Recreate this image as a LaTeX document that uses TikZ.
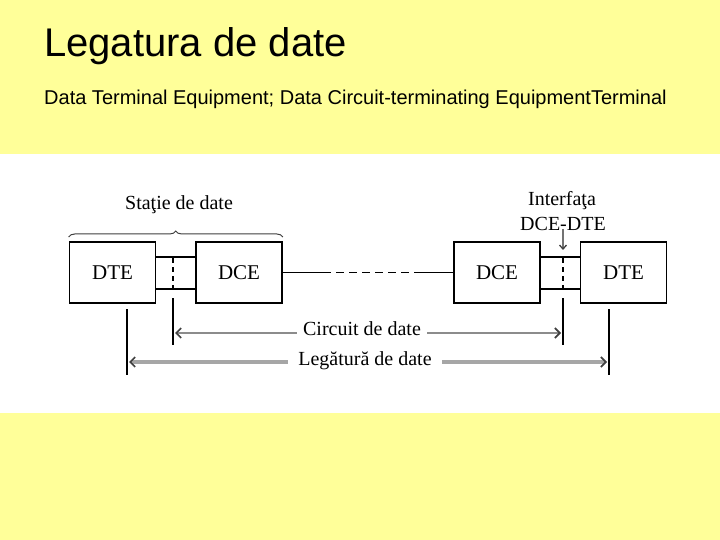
\documentclass[tikz,border=0pt]{standalone}
\usepackage{fontspec}
\setmainfont{Liberation Serif}
\newfontfamily\titlefont{Liberation Sans}
\usetikzlibrary{arrows.meta,decorations.pathreplacing,calc}
\definecolor{slideyellow}{RGB}{255,255,153}
\newcommand\lblfont{\fontsize{20bp}{22bp}\selectfont}
\newcommand\boxfont{\fontsize{21bp}{23bp}\selectfont}
\begin{document}
\begin{tikzpicture}[x=1bp,y=-1bp,
  box/.style={draw,line width=1.6bp,minimum width=86bp,minimum height=61bp,inner sep=0pt,font=\boxfont},
  wire/.style={line width=1.6bp},
  dashwire/.style={line width=1.6bp,dash pattern=on 5bp off 4bp},
  linkdash/.style={line width=1.6bp,dash pattern=on 8bp off 5bp},
  lbl/.style={font=\lblfont,inner sep=0pt},
  dimA/.style={draw=black!45,line width=2bp,
    {Straight Barb[length=5bp,width=10bp,line width=1.6bp,color=black!75]}-{Straight Barb[length=5bp,width=10bp,line width=1.6bp,color=black!75]}},
  dimB/.style={draw=black!35,line width=3.5bp,
    {Straight Barb[length=5bp,width=10bp,line width=1.6bp,color=black!75]}-{Straight Barb[length=5bp,width=10bp,line width=1.6bp,color=black!75]}},
  dimlbl/.style={font=\lblfont,fill=white,inner xsep=6bp,inner ysep=1bp,anchor=base}
]
\useasboundingbox (0,0) rectangle (720,540);
\fill[slideyellow] (0,0) rectangle (720,540);
\fill[white] (0,154) rectangle (720,413);

\node[anchor=base west,inner sep=0pt,font=\titlefont\fontsize{40bp}{46bp}\selectfont] (title) at (44,57) {Legatura de date};
\node[anchor=base west,inner sep=0pt,font=\titlefont\fontsize{20bp}{24bp}\selectfont] (sub) at (44,105) {Data Terminal Equipment; Data Circuit-terminating EquipmentTerminal};

% boxes
\node[box] (dte1) at (112.5,272.5) {DTE};
\node[box] (dce1) at (239,272.5) {DCE};
\node[box] (dce2) at (497,272.5) {DCE};
\node[box] (dte2) at (623.5,272.5) {DTE};

% interface connectors
\draw[wire] ([yshift=-16bp]dte1.north east) -- ([yshift=-16bp]dce1.north west);
\draw[wire] ([yshift=15bp]dte1.south east) -- ([yshift=15bp]dce1.south west);
\draw[wire] ([yshift=-16bp]dce2.north east) -- ([yshift=-16bp]dte2.north west);
\draw[wire] ([yshift=15bp]dce2.south east) -- ([yshift=15bp]dte2.south west);

\coordinate (ia1) at (173,258); \coordinate (ib1) at (173,288);
\coordinate (ic1) at (173,298); \coordinate (id1) at (173,345);
\coordinate (ia2) at (563,258); \coordinate (ib2) at (563,288);
\coordinate (ic2) at (563,298); \coordinate (id2) at (563,345);
\draw[dashwire] (ia1) -- (ib1);
\draw[dashwire] (ia2) -- (ib2);
\draw[wire] (ic1) -- (id1);
\draw[wire] (ic2) -- (id2);

\coordinate (oa1) at (127,309); \coordinate (ob1) at (127,375);
\coordinate (oa2) at (609,309); \coordinate (ob2) at (609,375);
\draw[wire] (oa1) -- (ob1);
\draw[wire] (oa2) -- (ob2);

% link between DCEs
\coordinate (da) at (323,272.5);
\coordinate (db) at (416,272.5);
\draw[wire] (dce1.east) -- (da);
\draw[linkdash] (da) -- (db);
\draw[wire] (db) -- (dce2.west);

% brace
\draw[decorate,decoration={brace,amplitude=6bp},draw=black!75,line width=1bp] (dte1.north west |- 0,237) -- (dce1.north east |- 0,237);
\node[lbl] (statie) at (179,205) {Staţie de date};

% interface label
\node[lbl] (intf) at (562,201) {Interfaţa};
\node[lbl] (dcedte) at (563,224) {DCE-DTE};
\coordinate (arrtop) at (563,229);
\coordinate (arrtip) at (563,250);
\draw[draw=black!55,line width=1.3bp,-{Straight Barb[length=4bp,width=7bp,line width=1.3bp,color=black!75]}] (arrtop) -- (arrtip);

% dimension arrows
\coordinate (c1) at (175,333); \coordinate (c2) at (561,333);
\coordinate (l1) at (129,362); \coordinate (l2) at (607,362);
\draw[dimA] (c1) -- (c2);
\draw[dimB] (l1) -- (l2);
\node[dimlbl] (circ) at (362,335) {Circuit de date};
\node[dimlbl,inner xsep=10bp] (leg) at (365,365) {Legătură de date};
\end{tikzpicture}
\end{document}
